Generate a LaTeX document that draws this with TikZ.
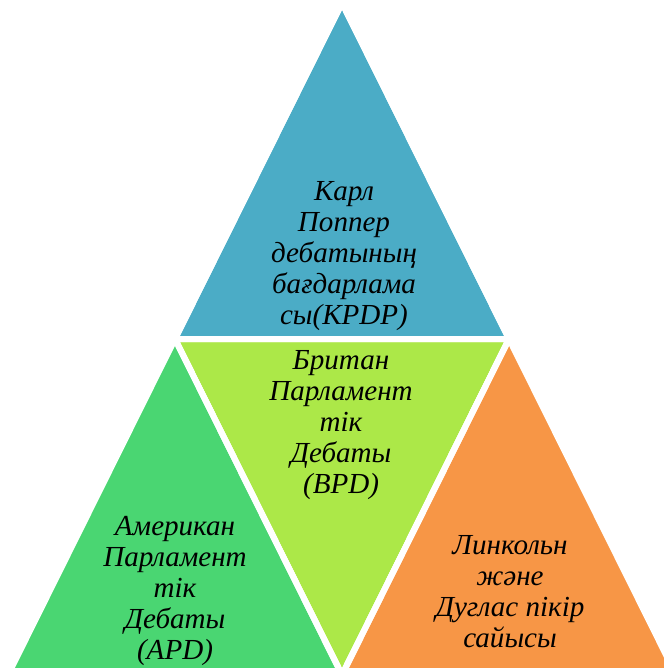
\documentclass[tikz,border=0pt]{standalone}
\usepackage{fontspec}
\setmainfont{Liberation Serif}
\usepackage{tikz}
\usetikzlibrary{positioning}
\definecolor{kpdpblue}{RGB}{75,172,198}
\definecolor{bpdlime}{RGB}{172,232,72}
\definecolor{apdgreen}{RGB}{74,214,114}
\definecolor{lddorange}{RGB}{247,150,70}
\tikzset{
    %Define style for triangle pieces
    piece/.style={
           draw=white,
           line width=4.5pt,
           line join=miter},
    %Define style for texts
    tritext/.style={
           align=center,
           inner sep=0pt,
           font=\fontsize{21.8}{23.3}\selectfont\itshape}
}
\begin{document}
\begin{tikzpicture}[x=0.75pt,y=-0.75pt]
\clip (0,0) rectangle (664,668);
 %corners
\coordinate (A) at (342,3);
\coordinate (B) at (8,675);
\coordinate (C) at (676,675);
\coordinate (AB) at (175,339);
\coordinate (AC) at (509,339);
\coordinate (BC) at (342,675);
 %pieces
\fill[piece, fill=kpdpblue] (A) -- (AB) -- (AC) -- cycle;
\fill[piece, fill=bpdlime] (AB) -- (AC) -- (BC) -- cycle;
\fill[piece, fill=apdgreen] (AB) -- (BC) -- (B) -- cycle;
\fill[piece, fill=lddorange] (AC) -- (C) -- (BC) -- cycle;
\draw[piece] (A) -- (AB) -- (AC) -- cycle (AB) -- (BC) -- (AC) (B) -- (C);
 %nodes
\node[tritext] (kpdp) at (344,256) {Карл\\Поппер\\дебатының\\бағдарлама\\сы(KPDP)};
\node[tritext] (bpd) at (341,425) {Британ\\Парламент\\тік\\Дебаты\\(BPD)};
\node[tritext] (apd) at (175,591) {Американ\\Парламент\\тік\\Дебаты\\(APD)};
\node[tritext] (ldd) at (510,592) {Линкольн\\және\\Дуглас пікір\\сайысы};
\end{tikzpicture}
\end{document}
